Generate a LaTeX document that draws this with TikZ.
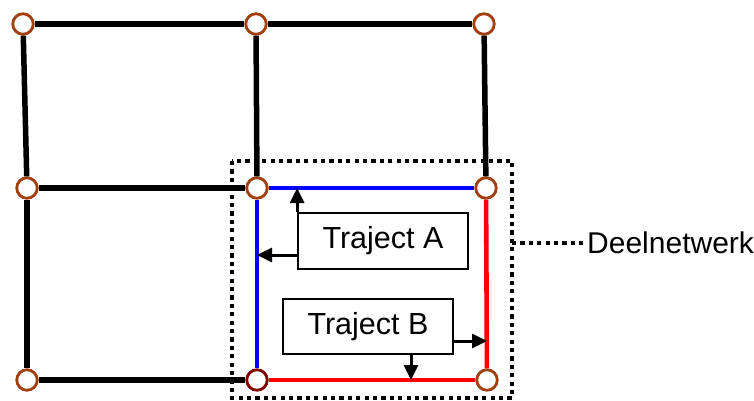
\documentclass[tikz,border=0pt]{standalone}
\usepackage{fontspec}
\setmainfont{Liberation Sans}
\usetikzlibrary{arrows.meta,positioning}
\definecolor{knoop}{RGB}{160,64,16}
\definecolor{knoopdonker}{RGB}{128,0,0}
\begin{document}
\begin{tikzpicture}[x=1pt,y=-1pt,
    knp/.style={circle,draw=knoop,line width=2.8pt,fill=white,minimum size=20.5pt,inner sep=0pt},
    net/.style={line width=5.5pt,black},
    trajA/.style={line width=4.6pt,blue},
    trajB/.style={line width=4.6pt,red},
    label/.style={draw,line width=1.7pt,fill=white,minimum width=170pt,minimum height=56pt,
                  font=\fontsize{30.5}{36}\selectfont},
    pijl/.style={line width=3pt,-{Triangle[length=15pt,width=14pt]}},
    stip/.style={line width=4.4pt,dash pattern=on 4.2pt off 4.2pt}]
  \useasboundingbox (0,0) rectangle (754,400);
  % knooppunten van het netwerk
  \node[knp] (tl) at (23,24) {};
  \node[knp] (tm) at (256,24) {};
  \node[knp] (tr) at (484,24) {};
  \node[knp] (ml) at (27,188) {};
  \node[knp] (mm) at (257,188) {};
  \node[knp] (mr) at (486,188) {};
  \node[knp] (bl) at (27,380) {};
  \node[knp,draw=knoopdonker] (bm) at (257,380) {};
  \node[knp] (br) at (487,380) {};
  % verbindingen
  \draw[net] (tl) -- (tm);
  \draw[net] (tm) -- (tr);
  \draw[net] (tl) -- (ml);
  \draw[net] (ml) -- (bl);
  \draw[net] (tm) -- (mm);
  \draw[net] (tr) -- (mr);
  \draw[net] (ml) -- (mm);
  \draw[net] (bl) -- (bm);
  \draw[trajA] (bm) -- (mm);
  \draw[trajA] (mm) -- (mr);
  \draw[trajB] (bm) -- (br);
  \draw[trajB] (br) -- (mr);
  % deelnetwerk
  \draw[stip] (232,161) rectangle (512,398);
  \coordinate (dn) at (512,243);
  \node[anchor=west,font=\fontsize{30}{36}\selectfont,inner sep=0pt] (deel) at (587,243) {Deelnetwerk};
  \draw[stip] (dn) -- (deel.west);
  % trajecten
  \node[label] (A) at (383,241) {Traject A};
  \node[label,minimum height=55pt] (B) at (368,326.5) {Traject B};
  \draw[pijl] (A.north west) -- (A.north west |- mm);
  \draw[pijl] ([yshift=-14pt]A.west) -- ([yshift=-14pt]A.west -| mm);
  \draw[pijl] ([yshift=-14.5pt]B.east) -- ([yshift=-14.5pt]B.east -| br);
  \draw[pijl] ([xshift=43pt]B.south) -- ([xshift=43pt]B.south |- bm);
\end{tikzpicture}
\end{document}
